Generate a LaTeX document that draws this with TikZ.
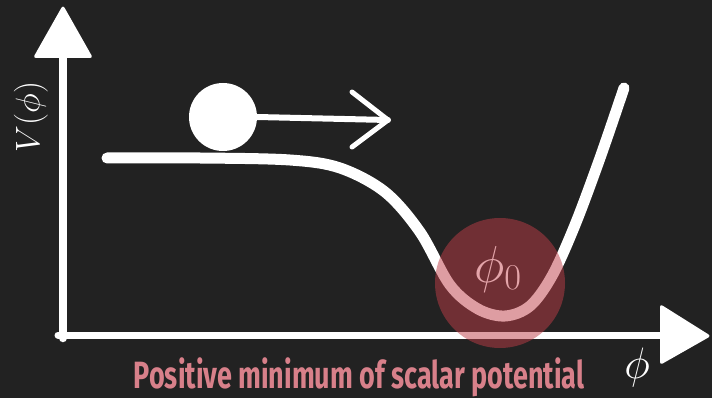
\RequirePackage{fix-cm}
\documentclass[tikz,border=0pt]{standalone}
\usepackage{fontspec}
\usepackage{graphicx}
\newfontfamily\titlefont{Fira Sans}
\definecolor{bgc}{RGB}{34,34,34}
\definecolor{redc}{RGB}{190,60,70}
\definecolor{titlepink}{RGB}{216,128,138}
\definecolor{phic}{RGB}{228,165,170}
\tikzset{
  chalk/.style={white, line cap=round, line join=round},
  headfill/.style={fill=white, rounded corners=3pt},
}
\begin{document}
\begin{tikzpicture}[x=1pt,y=-1pt]
\fill[bgc] (0,0) rectangle (712,398);
\useasboundingbox (0,0) rectangle (712,398);
% axes
\coordinate (o) at (63,338);
\coordinate (ytop) at (63,55);
\coordinate (xorig) at (58,335);
\coordinate (xend) at (662,335);
\draw[chalk, line width=8.5pt] (o) -- (ytop);
\draw[chalk, line width=7pt] (xorig) -- (xend);
\fill[headfill] (63,5) -- (93,58) -- (33,58) -- cycle;
\fill[headfill] (711,336) -- (660,365) -- (660,304) -- cycle;
% potential curve
\draw[chalk, line width=11pt] plot[smooth, tension=0.55] coordinates
 {(107,158) (200,158) (290,160) (340,168) (385,192) (420,232) (450,285) (478,309) (505,316) (530,306) (552,276) (575,225) (600,158) (624,88)};
% ball and arrow
\node[circle, fill=white, minimum size=68pt, inner sep=0pt] (ball) at (223,117) {};
\coordinate (tip) at (388,120);
\draw[chalk, line width=6pt] (ball.east) -- (tip);
\draw[chalk, line width=5pt] (352,92) -- (tip) -- (352,147);
% minimum marker
\node[circle, fill=redc, fill opacity=0.5, minimum size=130pt, inner sep=0pt] (min) at (500,283) {};
\node[text=phic] (phi0) at (498,269) {\fontsize{52}{56}\selectfont $\phi_0$};
% labels
\node[rotate=90, text=white] (vlabel) at (31,117) {\fontsize{34}{38}\selectfont $V(\phi)$};
\node[text=white] (xlabel) at (637,367) {\fontsize{44}{48}\selectfont $\phi$};
\node[text=titlepink, anchor=base] (title) at (359,388) {\scalebox{0.71}[1]{\titlefont\bfseries\fontsize{38}{40}\selectfont Positive minimum of scalar potential}};
\end{tikzpicture}
\end{document}
